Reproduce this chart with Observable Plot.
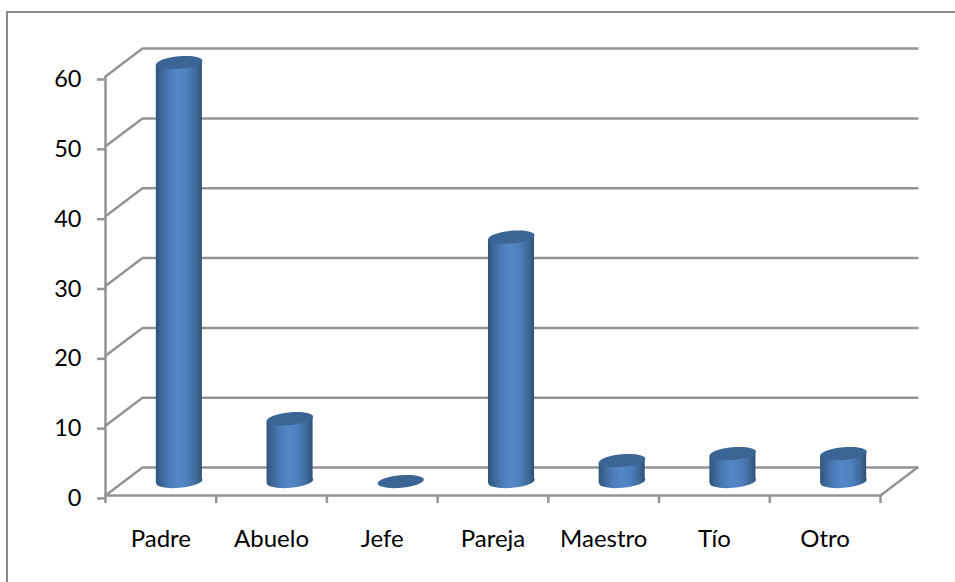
<!DOCTYPE html>
<html><head><meta charset="utf-8">
<script src="https://cdn.jsdelivr.net/npm/d3@7"></script>
<script src="https://cdn.jsdelivr.net/npm/@observablehq/plot@0.6"></script>
<style>
html,body{margin:0;padding:0;background:#fff;width:955px;height:582px;overflow:hidden}
#frame{position:absolute;left:6px;top:11px;width:960px;height:600px;border:2px solid #8a8a8a;pointer-events:none}
#chart{position:absolute;left:0;top:0}
</style></head>
<body><div id="chart"></div><div id="frame"></div>
<script>
const categories = ["Padre","Abuelo","Jefe","Pareja","Maestro","Tío","Otro"];
const values = [60,9,0,35,3,4,4];
const yTicks = [0,10,20,30,40,50,60];
const xTicks = [0,1,2,3,4,5,6,7];
const depthX = 0.334, depthY = 4;     // 3-D depth of the floor in data units
const barHalf = 0.208;                // half bar width in category units
const tilt = 0.29;                    // rise of the caps, in value units
const GRID = "#949494";

// tilted ellipse symbol for the cylinder caps
function ellipseSymbol(a,b,deg){
  const t=deg*Math.PI/180,c=Math.cos(t),s=Math.sin(t),k=0.5523;
  const P=(x,y)=>[x*c-y*s,x*s+y*c];
  return {draw(ctx){
    ctx.moveTo(...P(a,0));
    ctx.bezierCurveTo(...P(a,k*b),...P(k*a,b),...P(0,b));
    ctx.bezierCurveTo(...P(-k*a,b),...P(-a,k*b),...P(-a,0));
    ctx.bezierCurveTo(...P(-a,-k*b),...P(-k*a,-b),...P(0,-b));
    ctx.bezierCurveTo(...P(k*a,-b),...P(a,-k*b),...P(a,0));
    ctx.closePath();
  }};
}
const cap = ellipseSymbol(23.2,6.3,-5);

const table = categories.map((name,i)=>({name,value:values[i],cx:i+0.5+depthX/2}));
const bodies = table.filter(d=>d.value>0).flatMap(d=>[
  {name:d.name,x:d.cx-barHalf,y1:depthY/2-tilt,y2:d.value+depthY/2-tilt},
  {name:d.name,x:d.cx+barHalf,y1:depthY/2+tilt,y2:d.value+depthY/2+tilt}
]);
const grid = yTicks.flatMap(v=>[
  {g:v,x:0,y:v},{g:v,x:depthX,y:v+depthY},{g:v,x:7+depthX,y:v+depthY}
]);
const floorEdge = [{x:7,y:0},{x:7+depthX,y:depthY}];

const defs = () => {
  const s = d3.create("svg:defs");
  const g = s.append("linearGradient").attr("id","cyl").attr("x1","0").attr("x2","1").attr("y1","0").attr("y2","0");
  [[0,"#2f527c"],[0.1,"#3a6494"],[0.3,"#4c7cb8"],[0.48,"#5587c8"],[0.68,"#4e80bd"],[0.88,"#3e6999"],[1,"#2f5078"]]
    .forEach(([o,c])=>g.append("stop").attr("offset",o).attr("stop-color",c));
  return s.node();
};

const chart = Plot.plot({
  width:955,height:582,
  marginLeft:105,marginRight:75,marginTop:76,marginBottom:87,
  style:{background:"transparent",fontFamily:"Lato",overflow:"visible"},
  x:{domain:[0,7]},y:{domain:[0,60]},
  marks:[
    defs,
    Plot.line(grid,{x:"x",y:"y",z:"g",stroke:GRID,strokeWidth:2.5}),
    Plot.line(floorEdge,{x:"x",y:"y",stroke:GRID,strokeWidth:2.5}),
    Plot.ruleX([0],{y1:0,y2:60,stroke:GRID,strokeWidth:2.5}),
    Plot.ruleY([0],{x1:0,x2:7,stroke:GRID,strokeWidth:2.5}),
    Plot.axisY({ticks:yTicks,tickSize:8,tickPadding:16,stroke:GRID,strokeWidth:2.5,strokeOpacity:1,label:null,fontSize:23.5,fill:"#000",dy:3}),
    Plot.axisX({ticks:xTicks,tickSize:8,stroke:GRID,strokeWidth:2.5,strokeOpacity:1,tickFormat:()=>"",label:null}),
    Plot.axisX({ticks:categories.map((_,i)=>i+0.5),tickSize:0,tickPadding:34,tickFormat:d=>categories[d-0.5],label:null,fontSize:24,fill:"#000"}),
    Plot.dot(table.filter(d=>d.value>0),{x:"cx",y:()=>depthY/2,symbol:cap,r:5,fill:"url(#cyl)"}),
    Plot.areaY(bodies,{x:"x",y1:"y1",y2:"y2",z:"name",fill:"url(#cyl)"}),
    Plot.dot(table,{x:"cx",y:d=>d.value+depthY/2,symbol:cap,r:5,fill:"#3b6595"})
  ]
});
document.getElementById("chart").appendChild(chart);
</script></body></html>
